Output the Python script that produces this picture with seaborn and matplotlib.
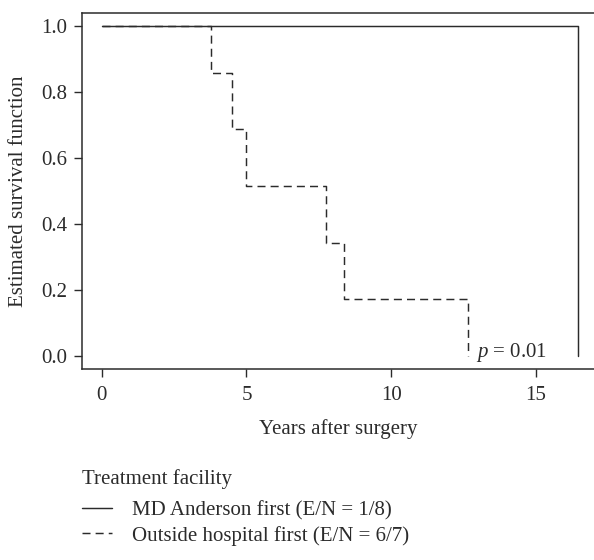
import matplotlib
matplotlib.use("Agg")
import matplotlib.pyplot as plt
import seaborn as sns
import pandas as pd

# Kaplan-Meier estimates
md_times = [0.0, 16.45]
md_surv = [1.0, 0.0]

out_times = [0.0, 3.78, 4.50, 4.99, 7.75, 8.37, 12.65]
out_surv = [1.0, 0.857, 0.686, 0.514, 0.343, 0.171, 0.0]

group_labels = ["MD Anderson first (E/N = 1/8)", "Outside hospital first (E/N = 6/7)"]
legend_title = "Treatment facility"
x_ticks = [0, 5, 10, 15]
y_ticks = [0.0, 0.2, 0.4, 0.6, 0.8, 1.0]
p_text = "$p$ = 0.01"

sns.set_style("ticks")
plt.rcParams['font.family'] = ['Liberation Serif', 'DejaVu Serif']
plt.rcParams['mathtext.fontset'] = 'custom'
plt.rcParams['mathtext.rm'] = 'Liberation Serif'
plt.rcParams['mathtext.it'] = 'Liberation Serif:italic'

ink = '#2b2b2b'
fs = 15

df_md = pd.DataFrame({"time": md_times, "surv": md_surv})
df_out = pd.DataFrame({"time": out_times, "surv": out_surv})

fig = plt.figure(figsize=(5.94, 5.6), dpi=100)
ax = fig.add_axes([82.3 / 594, 1 - 369 / 560, 1 - 82.3 / 594, (369 - 13) / 560])

sns.lineplot(data=df_md, x="time", y="surv", drawstyle='steps-post', color=ink,
             linewidth=1.05, ax=ax, label=group_labels[0])
sns.lineplot(data=df_out, x="time", y="surv", drawstyle='steps-post', color=ink,
             linewidth=1.05, ax=ax, label=group_labels[1])
ax.lines[1].set_dashes((5.5, 3.5))

ax.set_xlim(-0.67, 17.0)
ax.set_ylim(-0.040, 1.039)
ax.set_xticks(x_ticks)
ax.set_yticks(y_ticks)
ax.set_yticklabels([f"{v:.1f}" for v in y_ticks])
ax.tick_params(axis='both', labelsize=fs, colors=ink, length=6, width=1.0, direction='out')
ax.tick_params(axis='x', pad=6)
ax.tick_params(axis='y', pad=5)

for side in ['left', 'top', 'bottom']:
    ax.spines[side].set_color(ink)
    ax.spines[side].set_linewidth(1.1)
ax.spines['right'].set_visible(False)

ax.set_xlabel("Years after surgery", fontsize=fs, color=ink, labelpad=10.5)
ax.set_ylabel("Estimated survival function", fontsize=fs, color=ink, labelpad=9)

ax.text(12.94, 0.011, p_text, fontsize=fs, color=ink, va='center', ha='left')

# legend below the axes, title as separate text
ax.get_legend().remove()
handles, labels = ax.get_legend_handles_labels()
fig.text(82 / 594, 1 - 479.5 / 560, legend_title, fontsize=fs, color=ink, va='center', ha='left')
leg = fig.legend(handles, labels, loc='center left',
                 bbox_to_anchor=(82 / 594, 1 - 523 / 560), bbox_transform=fig.transFigure,
                 frameon=False, fontsize=fs, handlelength=1.45, borderpad=0,
                 handletextpad=0.95, labelspacing=0.27, borderaxespad=0)
for t in leg.get_texts():
    t.set_color(ink)

fig.savefig("out.png", dpi=100)
